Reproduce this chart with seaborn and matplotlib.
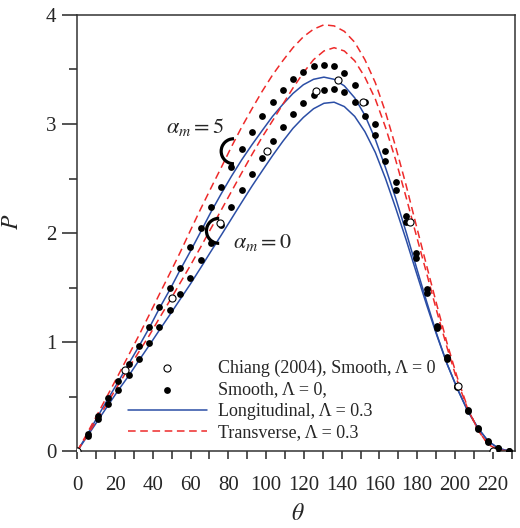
import numpy as np
import pandas as pd
import matplotlib
matplotlib.use("Agg")
import matplotlib.pyplot as plt
from matplotlib.patches import Arc
from matplotlib.ticker import MultipleLocator
import seaborn as sns

# angle grid shared by the computed points and curves (deg)
theta = [0, 5.44, 10.9, 16.3, 21.8, 27.2, 32.6, 38.1, 43.5, 49.0, 54.4, 59.8,
         65.3, 70.7, 76.2, 81.6, 87.0, 92.5, 97.9, 103.4, 108.8, 114.2, 119.7,
         125.1, 130.6, 136.0, 141.4, 146.9, 152.3, 157.8, 163.2, 168.6, 174.1,
         179.5, 185.0, 190.4, 195.8, 201.3, 206.7, 212.2, 217.6, 223.0, 228.5]

# smooth, Lambda = 0 (filled dots)
smooth_am0 = [0, 0.14, 0.29, 0.43, 0.56, 0.70, 0.844, 0.988, 1.14, 1.29, 1.44, 1.59,
              1.75, 1.91, 2.07, 2.235, 2.39, 2.545, 2.69, 2.84, 2.97, 3.095, 3.19,
              3.27, 3.31, 3.32, 3.29, 3.20, 3.07, 2.90, 2.66, 2.39, 2.10,
              1.77, 1.45, 1.13, 0.84, 0.59, 0.365, 0.205, 0.083, 0.024, 0.0]
smooth_am5 = [0, 0.155, 0.32, 0.49, 0.64, 0.80, 0.966, 1.14, 1.318, 1.50, 1.68, 1.87,
              2.05, 2.236, 2.42, 2.605, 2.77, 2.925, 3.075, 3.20, 3.315, 3.41, 3.48,
              3.53, 3.54, 3.53, 3.465, 3.36, 3.20, 3.00, 2.75, 2.47, 2.156,
              1.82, 1.486, 1.15, 0.86, 0.60, 0.375, 0.21, 0.088, 0.026, 0.0]

# longitudinal roughness, Lambda = 0.3 (blue solid)
long_am0 = [0, 0.14, 0.28, 0.42, 0.56, 0.69, 0.83, 0.97, 1.11, 1.25, 1.39, 1.53,
            1.68, 1.83, 1.98, 2.13, 2.28, 2.43, 2.57, 2.71, 2.84, 2.96, 3.06,
            3.14, 3.19, 3.20, 3.16, 3.07, 2.93, 2.74, 2.50, 2.23, 1.94,
            1.64, 1.34, 1.06, 0.80, 0.57, 0.37, 0.21, 0.09, 0.025, 0.0]
long_am5 = [0, 0.155, 0.32, 0.48, 0.64, 0.80, 0.96, 1.13, 1.31, 1.48, 1.66, 1.83,
            2.01, 2.19, 2.36, 2.52, 2.67, 2.81, 2.94, 3.07, 3.18, 3.28, 3.36,
            3.41, 3.43, 3.41, 3.35, 3.24, 3.08, 2.86, 2.60, 2.32, 2.01,
            1.69, 1.37, 1.07, 0.80, 0.57, 0.37, 0.21, 0.09, 0.025, 0.0]

# transverse roughness, Lambda = 0.3 (red dashed)
trans_am0 = [0, 0.15, 0.30, 0.45, 0.61, 0.76, 0.91, 1.06, 1.22, 1.38, 1.54, 1.70,
             1.87, 2.04, 2.21, 2.38, 2.55, 2.72, 2.88, 3.03, 3.18, 3.33, 3.47,
             3.59, 3.67, 3.70, 3.67, 3.58, 3.43, 3.23, 2.97, 2.67, 2.33,
             1.98, 1.63, 1.28, 0.95, 0.64, 0.39, 0.19, 0.06, 0.01, 0.0]
trans_am5 = [0, 0.17, 0.345, 0.52, 0.70, 0.88, 1.06, 1.25, 1.44, 1.63, 1.82, 2.02,
             2.22, 2.41, 2.60, 2.79, 2.97, 3.14, 3.30, 3.45, 3.58, 3.70, 3.80,
             3.87, 3.91, 3.90, 3.85, 3.75, 3.59, 3.38, 3.11, 2.79, 2.44,
             2.07, 1.70, 1.34, 0.99, 0.67, 0.40, 0.19, 0.06, 0.01, 0.0]

# Chiang (2004), smooth, Lambda = 0 (open circles)
chiang_theta = [0, 25.0, 50.2, 75.5, 100.6, 126.2, 138.0, 151.3, 176.2, 201.5, 220.0]
chiang_p = [0, 0.74, 1.40, 2.09, 2.75, 3.30, 3.40, 3.20, 2.10, 0.60, 0.0]

BLUE = "#2b4ea6"
RED = "#ee2a2a"

sns.set_style("ticks")
plt.rcParams["font.family"] = ["Liberation Serif", "DejaVu Serif"]
plt.rcParams["mathtext.fontset"] = "stix"

fig = plt.figure(figsize=(5.2, 5.28), dpi=100)
ax = fig.add_axes([0.1487, 0.1458, 0.8417, 0.8258])

dots = pd.DataFrame({"theta": theta * 2,
                     "P": smooth_am0 + smooth_am5})

sns.lineplot(x=theta, y=long_am0, ax=ax, color=BLUE, lw=1.1, sort=False,
             label="Longitudinal, Λ = 0.3", zorder=2)
sns.lineplot(x=theta, y=long_am5, ax=ax, color=BLUE, lw=1.1, sort=False,
             label="_nolegend_", zorder=2)
sns.lineplot(x=theta, y=trans_am0, ax=ax, color=RED, lw=1.1, sort=False,
             label="Transverse, Λ = 0.3", zorder=2)
sns.lineplot(x=theta, y=trans_am5, ax=ax, color=RED, lw=1.1, sort=False,
             label="_nolegend_", zorder=2)
for ln in ax.lines[2:4]:
    ln.set_dashes((5, 3))

sns.scatterplot(data=dots, x="theta", y="P", ax=ax, color="black", s=24,
                edgecolor="black", linewidth=0, label="Smooth, Λ = 0,", zorder=3)
sns.scatterplot(x=chiang_theta, y=chiang_p, ax=ax, facecolor="white",
                edgecolor="black", s=26, linewidth=0.8,
                label="Chiang (2004), Smooth, Λ = 0", zorder=4)

# alpha_m annotations with C-shaped markers
xpx = 437.7 / 231.8
ypx = 436.0 / 4.0
r = 12.5
ax.add_patch(Arc((82.8, 2.75), 2 * r / xpx, 2 * r / ypx, theta1=35, theta2=325,
                 color="black", lw=2.3, zorder=5))
ax.add_patch(Arc((75.0, 2.02), 2 * r / xpx, 2 * r / ypx, theta1=40, theta2=320,
                 color="black", lw=2.3, zorder=5))
ax.text(47.0, 2.97, r"$\alpha_m = 5$", fontsize=16, ha="left", va="center")
ax.text(82.5, 1.91, r"$\alpha_m = 0$", fontsize=16, ha="left", va="center")

ax.set_xlim(0, 231.8)
ax.set_ylim(0, 4)
ax.xaxis.set_major_locator(MultipleLocator(20))
ax.xaxis.set_minor_locator(MultipleLocator(10))
ax.yaxis.set_major_locator(MultipleLocator(1))
ax.yaxis.set_minor_locator(MultipleLocator(0.5))
ax.tick_params(axis="x", which="both", direction="out", length=6, width=1.1,
               labelsize=15, pad=12)
ax.tick_params(axis="y", which="major", direction="out", length=11, width=1.1,
               labelsize=15, pad=4)
ax.tick_params(axis="y", which="minor", direction="out", length=6, width=1.1)
for sp in ax.spines.values():
    sp.set_visible(True)
    sp.set_linewidth(1.1)
    sp.set_color("#333333")

ax.set_xlabel(r"$\theta$", fontsize=17)
ax.set_ylabel(r"$P$", fontsize=17)
ax.xaxis.set_label_coords(0.504, -0.122)
ax.yaxis.set_label_coords(-0.124, 0.525)

handles, labels = ax.get_legend_handles_labels()
order = ["Chiang (2004), Smooth, Λ = 0", "Smooth, Λ = 0,",
         "Longitudinal, Λ = 0.3", "Transverse, Λ = 0.3"]
hmap = dict(zip(labels, handles))
ax.legend([hmap[k] for k in order], order, loc="center left",
          bbox_to_anchor=(0.115, 0.116), frameon=False, fontsize=13,
          handlelength=4.4, handletextpad=0.6, labelspacing=0.25,
          borderpad=0, borderaxespad=0)

fig.savefig("out.png", dpi=100)
